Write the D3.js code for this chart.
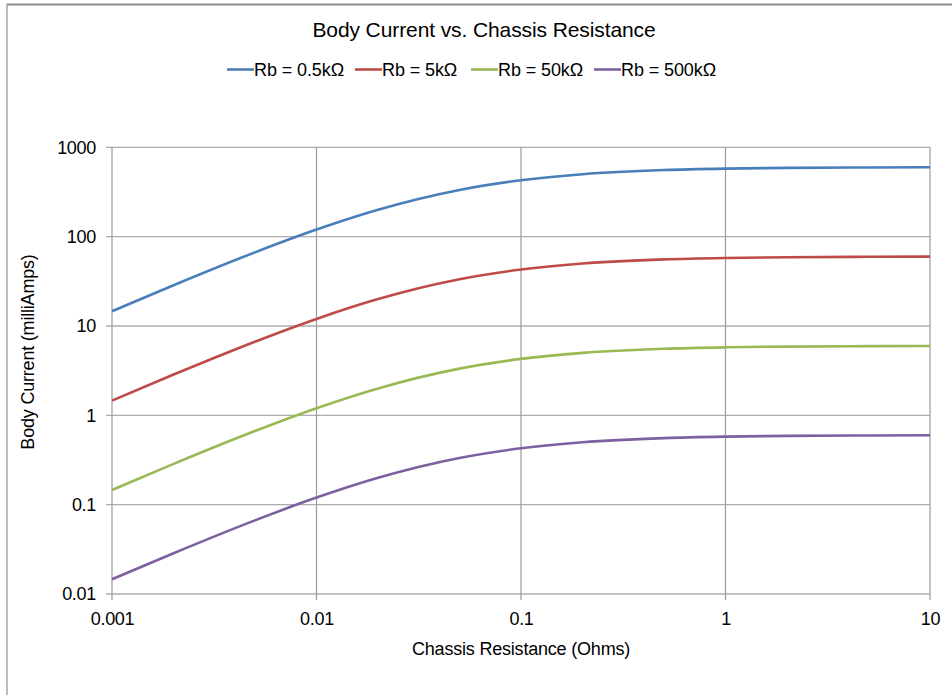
<!DOCTYPE html>
<html><head><meta charset="utf-8">
<script src="https://cdn.jsdelivr.net/npm/d3@7"></script>
<style>
html,body{margin:0;padding:0;background:#fff;}
text{font-family:"Liberation Sans",Arial,sans-serif;fill:#000;}
</style></head>
<body><svg id="c" width="952" height="695"></svg>
<script>
const chassisResistance = [0.001,0.002,0.005,0.01,0.02,0.05,0.1,0.2,0.5,1,2,5,10];
const rb05k  = [14.6,28.6,66.7,120,200,333,428,500,556,577,588,595,598];
const rb5k   = [1.46,2.86,6.67,12.0,20.0,33.3,42.8,50.0,55.6,57.7,58.8,59.5,59.8];
const rb50k  = [0.146,0.286,0.667,1.20,2.00,3.33,4.28,5.00,5.56,5.77,5.88,5.95,5.98];
const rb500k = [0.0146,0.0286,0.0667,0.120,0.200,0.333,0.428,0.500,0.556,0.577,0.588,0.595,0.598];
const seriesNames = ["Rb = 0.5kΩ","Rb = 5kΩ","Rb = 50kΩ","Rb = 500kΩ"];
const seriesColors = ["#4a7ebb","#be4b48","#98b954","#7d60a0"];
const xTicks = [0.001,0.01,0.1,1,10];
const xTickLabels = ["0.001","0.01","0.1","1","10"];
const yTicks = [0.01,0.1,1,10,100,1000];
const yTickLabels = ["0.01","0.1","1","10","100","1000"];

const series = [rb05k,rb5k,rb50k,rb500k];
const svg = d3.select("#c");
const L=112,R=930,T=147.3,B=594;
const x = d3.scaleLog().domain([0.001,10]).range([L,R]);
const y = d3.scaleLog().domain([0.01,1000]).range([B,T]);
const FF = "Liberation Sans, Arial, sans-serif";

// outer frame
svg.append("rect").attr("x",7).attr("y",4.5).attr("width",960).attr("height",720)
  .attr("fill","none").attr("stroke","#bcbcbc").attr("stroke-width",2);
svg.append("line").attr("x1",7).attr("x2",952).attr("y1",4.5).attr("y2",4.5).attr("stroke","#8c8c8c").attr("stroke-width",1.5);

// gridlines
const g = svg.append("g");
g.selectAll(".hg").data(yTicks).enter().append("line")
  .attr("x1",L-6).attr("x2",R).attr("y1",d=>y(d)).attr("y2",d=>y(d))
  .attr("stroke","#acacac").attr("stroke-width",1.3);
g.selectAll(".vg").data(xTicks).enter().append("line")
  .attr("y1",T).attr("y2",B+6).attr("x1",d=>x(d)).attr("x2",d=>x(d))
  .attr("stroke","#9a9a9a").attr("stroke-width",1.2);

// axes labels via d3 axes
const xa = svg.append("g").attr("transform",`translate(0,${B})`)
  .call(d3.axisBottom(x).tickValues(xTicks).tickFormat((d,i)=>xTickLabels[i]).tickSize(0).tickPadding(18));
xa.select(".domain").remove();
xa.selectAll("text").attr("font-size",18).style("font-family",FF).attr("fill","#000").attr("letter-spacing",-0.3);
const ya = svg.append("g").attr("transform",`translate(${L},0)`)
  .call(d3.axisLeft(y).tickValues(yTicks).tickFormat((d,i)=>yTickLabels[i]).tickSize(0).tickPadding(16));
ya.select(".domain").remove();
ya.selectAll("text").attr("font-size",18).style("font-family",FF).attr("fill","#000").attr("letter-spacing",-0.3);

// lines
const line = d3.line().x(d=>x(d[0])).y(d=>y(d[1])).curve(d3.curveMonotoneX);
series.forEach((s,i)=>{
  svg.append("path").datum(chassisResistance.map((c,j)=>[c,s[j]]))
    .attr("d",line).attr("fill","none").attr("stroke",seriesColors[i]).attr("stroke-width",2.6);
});

// title
svg.append("text").attr("x",484).attr("y",37).attr("text-anchor","middle").attr("font-size",21).attr("letter-spacing",-0.1)
  .text("Body Current vs. Chassis Resistance");
// legend
const legX = [227,355,471,594];
seriesNames.forEach((n,i)=>{
  svg.append("line").attr("x1",legX[i]).attr("x2",legX[i]+27).attr("y1",69.5).attr("y2",69.5)
    .attr("stroke",seriesColors[i]).attr("stroke-width",2.6);
  svg.append("text").attr("x",legX[i]+27).attr("y",76).attr("font-size",18).attr("letter-spacing",-0.1).text(n);
});
// axis titles
svg.append("text").attr("x",521).attr("y",655).attr("text-anchor","middle").attr("font-size",18).attr("letter-spacing",-0.2)
  .text("Chassis Resistance (Ohms)");
svg.append("text").attr("transform","translate(34,352) rotate(-90)").attr("text-anchor","middle").attr("font-size",18).attr("letter-spacing",-0.2)
  .text("Body Current (milliAmps)");
</script></body></html>
